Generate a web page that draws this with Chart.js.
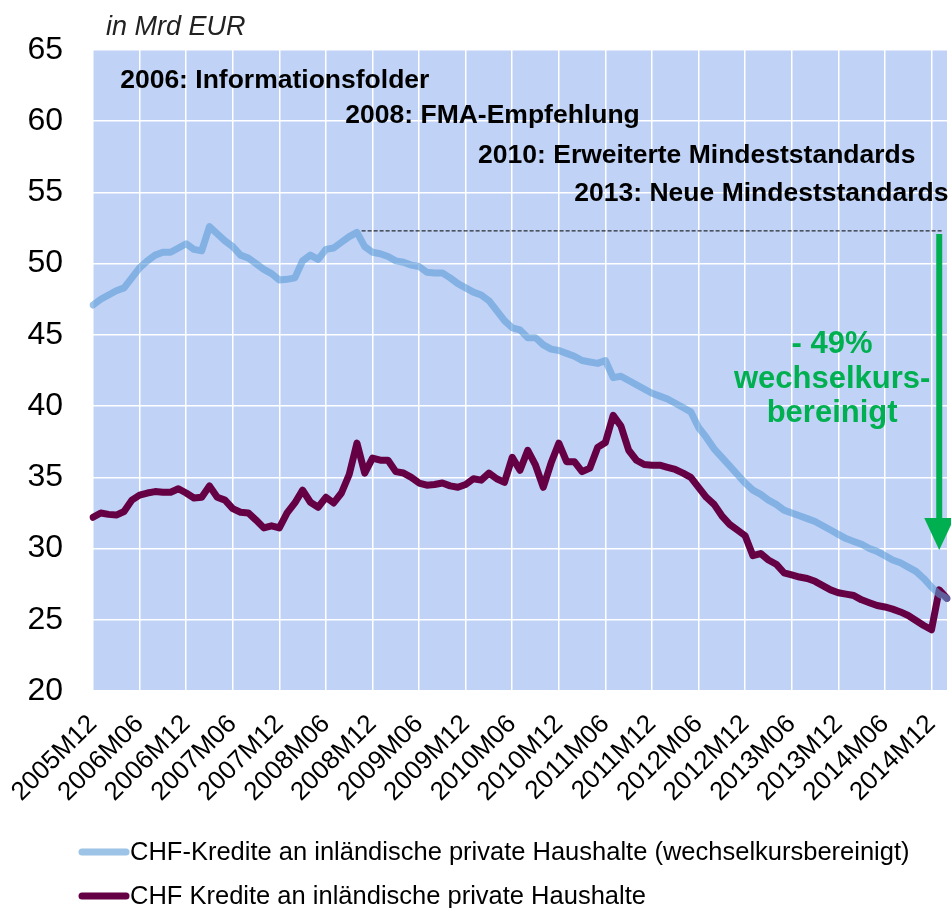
<!DOCTYPE html>
<html>
<head>
<meta charset="utf-8">
<script src="https://cdn.jsdelivr.net/npm/chart.js@4.4.1/dist/chart.umd.min.js"></script>
<style>
  html, body { margin: 0; padding: 0; background: #fff; }
  #wrap { width: 951px; height: 908px; }
</style>
</head>
<body>
<div id="wrap"><canvas id="chart" width="951" height="908"></canvas></div>
<script>
// Monthly data, 2005M12 .. 2015M02 (in Mrd EUR)
const startYear = 2005;
const startMonth = 12;
const monthCount = 111;

const tickLabels = [
    '2005M12', '2006M06', '2006M12', '2007M06', '2007M12', '2008M06', '2008M12',
    '2009M06', '2009M12', '2010M06', '2010M12', '2011M06', '2011M12', '2012M06',
    '2012M12', '2013M06', '2013M12', '2014M06', '2014M12'
];

const seriesNames = [
    'CHF-Kredite an inländische private Haushalte (wechselkursbereinigt)',
    'CHF Kredite an inländische private Haushalte'
];

// wechselkursbereinigt
const chfAdjusted = [
    47.1, 47.5, 47.8, 48.1, 48.3, 49.0, 49.7, 50.2, 50.6, 50.8,
    50.8, 51.1, 51.4, 51.0, 50.9, 52.6, 52.1, 51.6, 51.2, 50.6,
    50.4, 50.0, 49.6, 49.3, 48.85, 48.9, 49.0, 50.2, 50.6, 50.3,
    51.0, 51.1, 51.5, 51.9, 52.2, 51.2, 50.8, 50.7, 50.5, 50.2,
    50.1, 49.9, 49.8, 49.4, 49.35, 49.35, 49.0, 48.6, 48.3, 48.0,
    47.8, 47.4, 46.7, 46.0, 45.5, 45.35, 44.8, 44.8, 44.3, 44.0,
    43.9, 43.7, 43.5, 43.2, 43.1, 43.0, 43.2, 42.0, 42.1, 41.8,
    41.5, 41.2, 40.9, 40.7, 40.5, 40.2, 39.9, 39.6, 38.5, 37.8,
    37.0, 36.4, 35.8, 35.2, 34.6, 34.1, 33.8, 33.4, 33.1, 32.7,
    32.5, 32.3, 32.1, 31.9, 31.6, 31.3, 31.0, 30.7, 30.5, 30.3,
    30.0, 29.8, 29.5, 29.2, 29.0, 28.7, 28.4, 27.9, 27.3, 26.8,
    26.5
];

// nominal
const chfNominal = [
    32.2, 32.5, 32.4, 32.35, 32.6, 33.4, 33.75, 33.9, 34.0, 33.95,
    33.95, 34.2, 33.9, 33.55, 33.6, 34.4, 33.6, 33.4, 32.8, 32.55,
    32.5, 32.0, 31.45, 31.6, 31.45, 32.5, 33.2, 34.1, 33.25, 32.9,
    33.6, 33.2, 33.9, 35.2, 37.4, 35.3, 36.35, 36.2, 36.2, 35.4,
    35.3, 35.0, 34.6, 34.45, 34.5, 34.6, 34.4, 34.3, 34.5, 34.9,
    34.8, 35.3, 34.9, 34.65, 36.4, 35.5, 36.9, 35.85, 34.3, 36.0,
    37.4, 36.1, 36.1, 35.4, 35.65, 37.1, 37.45, 39.35, 38.6, 36.9,
    36.2, 35.9, 35.85, 35.85, 35.7, 35.55, 35.3, 35.0, 34.3, 33.6,
    33.1, 32.3, 31.7, 31.3, 30.9, 29.5, 29.65, 29.2, 28.9, 28.3,
    28.15, 28.0, 27.9, 27.7, 27.4, 27.1, 26.9, 26.8, 26.7, 26.4,
    26.2, 26.0, 25.9, 25.75, 25.55, 25.3, 24.95, 24.6, 24.3, 27.1,
    26.5
];

// annotation texts: [text, category index of left edge, baseline value]
const milestones = [
    ['2006: Informationsfolder', 3.5, 62.3],
    ['2008: FMA-Empfehlung', 32.5, 59.85],
    ['2010: Erweiterte Mindeststandards', 49.6, 57.1],
    ['2013: Neue Mindeststandards', 62.0, 54.4]
];
const refLevel = 52.3;          // dashed reference line
const refStartIndex = 34.6;
const refEndIndex = 109.4;
const arrowIndex = 109;
const arrowTipValue = 29.9;
const changeText = ['- 49%', 'wechselkurs-', 'bereinigt'];
const changeTextIndex = 95.2;
const changeTextValues = [43.7, 41.25, 38.85];

const months = [];
for (let i = 0; i < monthCount; i++) {
    const m = (startMonth - 1 + i) % 12 + 1;
    const y = startYear + Math.floor((startMonth - 1 + i) / 12);
    months.push(`${y}M${String(m).padStart(2, '0')}`);
}

const FONT = "'Liberation Sans', Arial, sans-serif";
const blueLine = 'rgba(91, 155, 213, 0.6)';
const purpleLine = '#660044';
const green = '#00B050';

const plotBackground = {
    id: 'plotBackground',
    beforeDraw(chart) {
        const { ctx, chartArea: a } = chart;
        ctx.save();
        ctx.fillStyle = '#C0D3F7';
        ctx.fillRect(a.left, a.top, a.right - a.left, a.bottom - a.top);
        ctx.restore();
    }
};

const overlays = {
    id: 'overlays',
    afterDatasetsDraw(chart) {
        const { ctx, scales: { x, y } } = chart;
        ctx.save();
        // dashed reference line
        const yr = y.getPixelForValue(refLevel);
        ctx.strokeStyle = '#000';
        ctx.lineWidth = 1;
        ctx.setLineDash([4, 2]);
        ctx.beginPath();
        ctx.moveTo(x.getPixelForValue(refStartIndex), yr);
        ctx.lineTo(x.getPixelForValue(refEndIndex), yr);
        ctx.stroke();
        ctx.setLineDash([]);

        // green arrow
        const ax = x.getPixelForValue(arrowIndex);
        const tip = y.getPixelForValue(arrowTipValue);
        const headLen = 32, headHalf = 15;
        ctx.strokeStyle = green;
        ctx.fillStyle = green;
        ctx.lineWidth = 6;
        ctx.beginPath();
        ctx.moveTo(ax, yr + 3);
        ctx.lineTo(ax, tip - headLen + 2);
        ctx.stroke();
        ctx.beginPath();
        ctx.moveTo(ax - headHalf, tip - headLen);
        ctx.lineTo(ax + headHalf, tip - headLen);
        ctx.lineTo(ax, tip);
        ctx.closePath();
        ctx.fill();

        // green text
        ctx.font = `bold 31px ${FONT}`;
        ctx.textAlign = 'center';
        ctx.textBaseline = 'alphabetic';
        const cx = x.getPixelForValue(changeTextIndex);
        changeText.forEach((t, i) => ctx.fillText(t, cx, y.getPixelForValue(changeTextValues[i])));
        ctx.restore();
    },
    afterDraw(chart) {
        const { ctx, chartArea: a, scales: { x, y } } = chart;
        ctx.save();
        ctx.fillStyle = '#000';
        ctx.textBaseline = 'alphabetic';
        ctx.textAlign = 'left';
        ctx.font = `bold 26.5px ${FONT}`;
        milestones.forEach(([t, idx, v]) => ctx.fillText(t, x.getPixelForValue(idx), y.getPixelForValue(v)));

        // unit
        ctx.fillStyle = '#222';
        ctx.font = `italic 27px ${FONT}`;
        ctx.fillText('in Mrd EUR', a.left + 13, a.top - 15);

        // legend
        const colors = [blueLine, purpleLine];
        const rows = [852, 896];
        ctx.font = `25.5px ${FONT}`;
        ctx.textBaseline = 'middle';
        seriesNames.forEach((name, i) => {
            ctx.strokeStyle = colors[i];
            ctx.lineWidth = 7;
            ctx.lineCap = 'round';
            ctx.beginPath();
            ctx.moveTo(82, rows[i]);
            ctx.lineTo(126, rows[i]);
            ctx.stroke();
            ctx.fillStyle = '#000';
            ctx.fillText(name, 130, rows[i] + 1);
        });
        ctx.restore();
    }
};

new Chart(document.getElementById('chart'), {
    type: 'line',
    data: {
        labels: months,
        datasets: [
            {
                label: seriesNames[0],
                data: chfAdjusted,
                borderColor: blueLine,
                borderWidth: 7,
                pointRadius: 0,
                tension: 0,
                borderJoinStyle: 'round',
                borderCapStyle: 'round'
            },
            {
                label: seriesNames[1],
                data: chfNominal,
                borderColor: purpleLine,
                borderWidth: 7,
                pointRadius: 0,
                tension: 0,
                borderJoinStyle: 'round',
                borderCapStyle: 'round'
            }
        ]
    },
    options: {
        responsive: false,
        animation: false,
        layout: { padding: { top: 50, right: 4, left: 0, bottom: 0 } },
        plugins: {
            legend: { display: false },
            tooltip: { enabled: false }
        },
        scales: {
            x: {
                ticks: {
                    autoSkip: false,
                    minRotation: 45,
                    maxRotation: 45,
                    padding: 18,
                    color: '#000',
                    font: { family: FONT, size: 26 },
                    callback: (val, idx) => tickLabels.includes(months[idx]) ? months[idx] : null
                },
                grid: { color: '#fff', lineWidth: 1.5, drawTicks: false },
                border: { display: false },
                afterFit(scale) {
                    scale.height = 217;
                    scale.paddingLeft = 0;
                    scale.paddingRight = 0;
                }
            },
            y: {
                min: 20,
                max: 65,
                ticks: {
                    stepSize: 5,
                    padding: 30,
                    color: '#000',
                    font: { family: FONT, size: 32 }
                },
                grid: { color: '#fff', lineWidth: 1.5, drawTicks: false },
                border: { display: false },
                afterFit(scale) { scale.width = 93; }
            }
        }
    },
    plugins: [plotBackground, overlays]
});
</script>
</body>
</html>
